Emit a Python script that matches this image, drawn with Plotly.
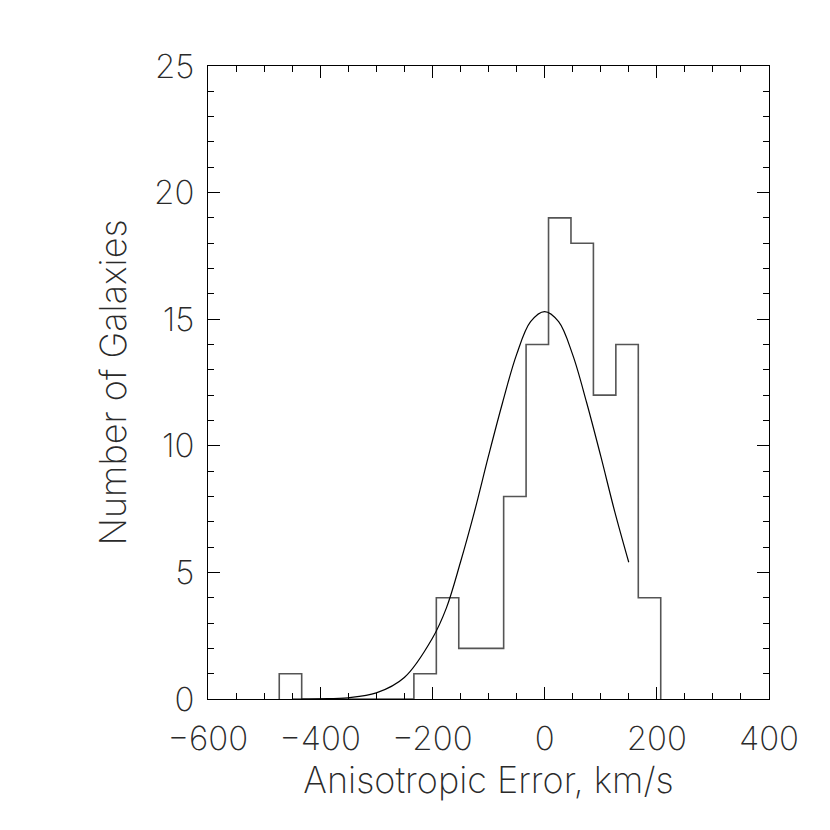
"""Histogram of anisotropic velocity errors with its Gaussian fit, IDL-style box axes."""

import plotly.graph_objects as go

# histogram: left bin edges (km/s, 40 km/s wide) and galaxy counts per bin
BIN_LEFT = [-473, -433, -393, -353, -313, -273, -233, -193, -153, -113,
            -73, -33, 7, 47, 87, 127, 167]
BIN_WIDTH = 40
COUNTS = [1, 0, 0, 0, 0, 0, 1, 4, 2, 2, 8, 14, 19, 18, 12, 14, 4]

# fitted curve
FIT_X = [-450, -400, -350, -300, -250, -200, -175, -150, -125, -100, -75, -50,
         -25, 0, 25, 50, 75, 100, 125, 150]
FIT_Y = [0.0, 0.01, 0.05, 0.24, 0.85, 2.4, 3.6, 5.4, 7.4, 9.6, 11.7, 13.6,
         14.9, 15.3, 14.9, 13.6, 11.7, 9.6, 7.4, 5.4]

FONT = "Inter, Lato, sans-serif"
TEXT = "#2a2a2a"

# outline of the histogram as a step path: up at the first edge, down at the last
step_x = [BIN_LEFT[0]] + BIN_LEFT + [BIN_LEFT[-1] + BIN_WIDTH]
step_y = [0] + COUNTS + [0]

fig = go.Figure()
fig.add_trace(go.Scatter(
    x=step_x, y=step_y, mode="lines", line_shape="hv",
    line=dict(color="#555555", width=1.6), hoverinfo="skip",
))
fig.add_trace(go.Scatter(
    x=FIT_X, y=FIT_Y, mode="lines", line_shape="spline",
    line=dict(color="black", width=1.2), hoverinfo="skip",
))

axis_common = dict(
    showgrid=False, zeroline=False, showline=True, linecolor="black", linewidth=1,
    mirror="allticks", ticks="inside", ticklen=12, tickwidth=1, tickcolor="black",
    tickfont=dict(family=FONT, size=33, color=TEXT, weight=200),
)
fig.update_xaxes(
    range=[-600, 400], dtick=200, tick0=-600,
    minor=dict(dtick=50, ticks="inside", ticklen=6, tickcolor="black", showgrid=False),
    title=dict(text="Anisotropic Error, km/s",
               font=dict(family=FONT, size=36, color=TEXT, weight=200), standoff=8),
    ticklabelstandoff=10,
    **axis_common,
)
fig.update_yaxes(
    range=[0, 25], dtick=5, tick0=0,
    minor=dict(dtick=1, ticks="inside", ticklen=6, tickcolor="black", showgrid=False),
    title=dict(text="Number of Galaxies",
               font=dict(family=FONT, size=36, color=TEXT, weight=200), standoff=16),
    ticklabelstandoff=6,
    **axis_common,
)
fig.update_layout(
    width=830, height=830, showlegend=False,
    margin=dict(l=200, r=69, t=58, b=139),
    paper_bgcolor="white", plot_bgcolor="white",
)
fig.write_html("out.html")
